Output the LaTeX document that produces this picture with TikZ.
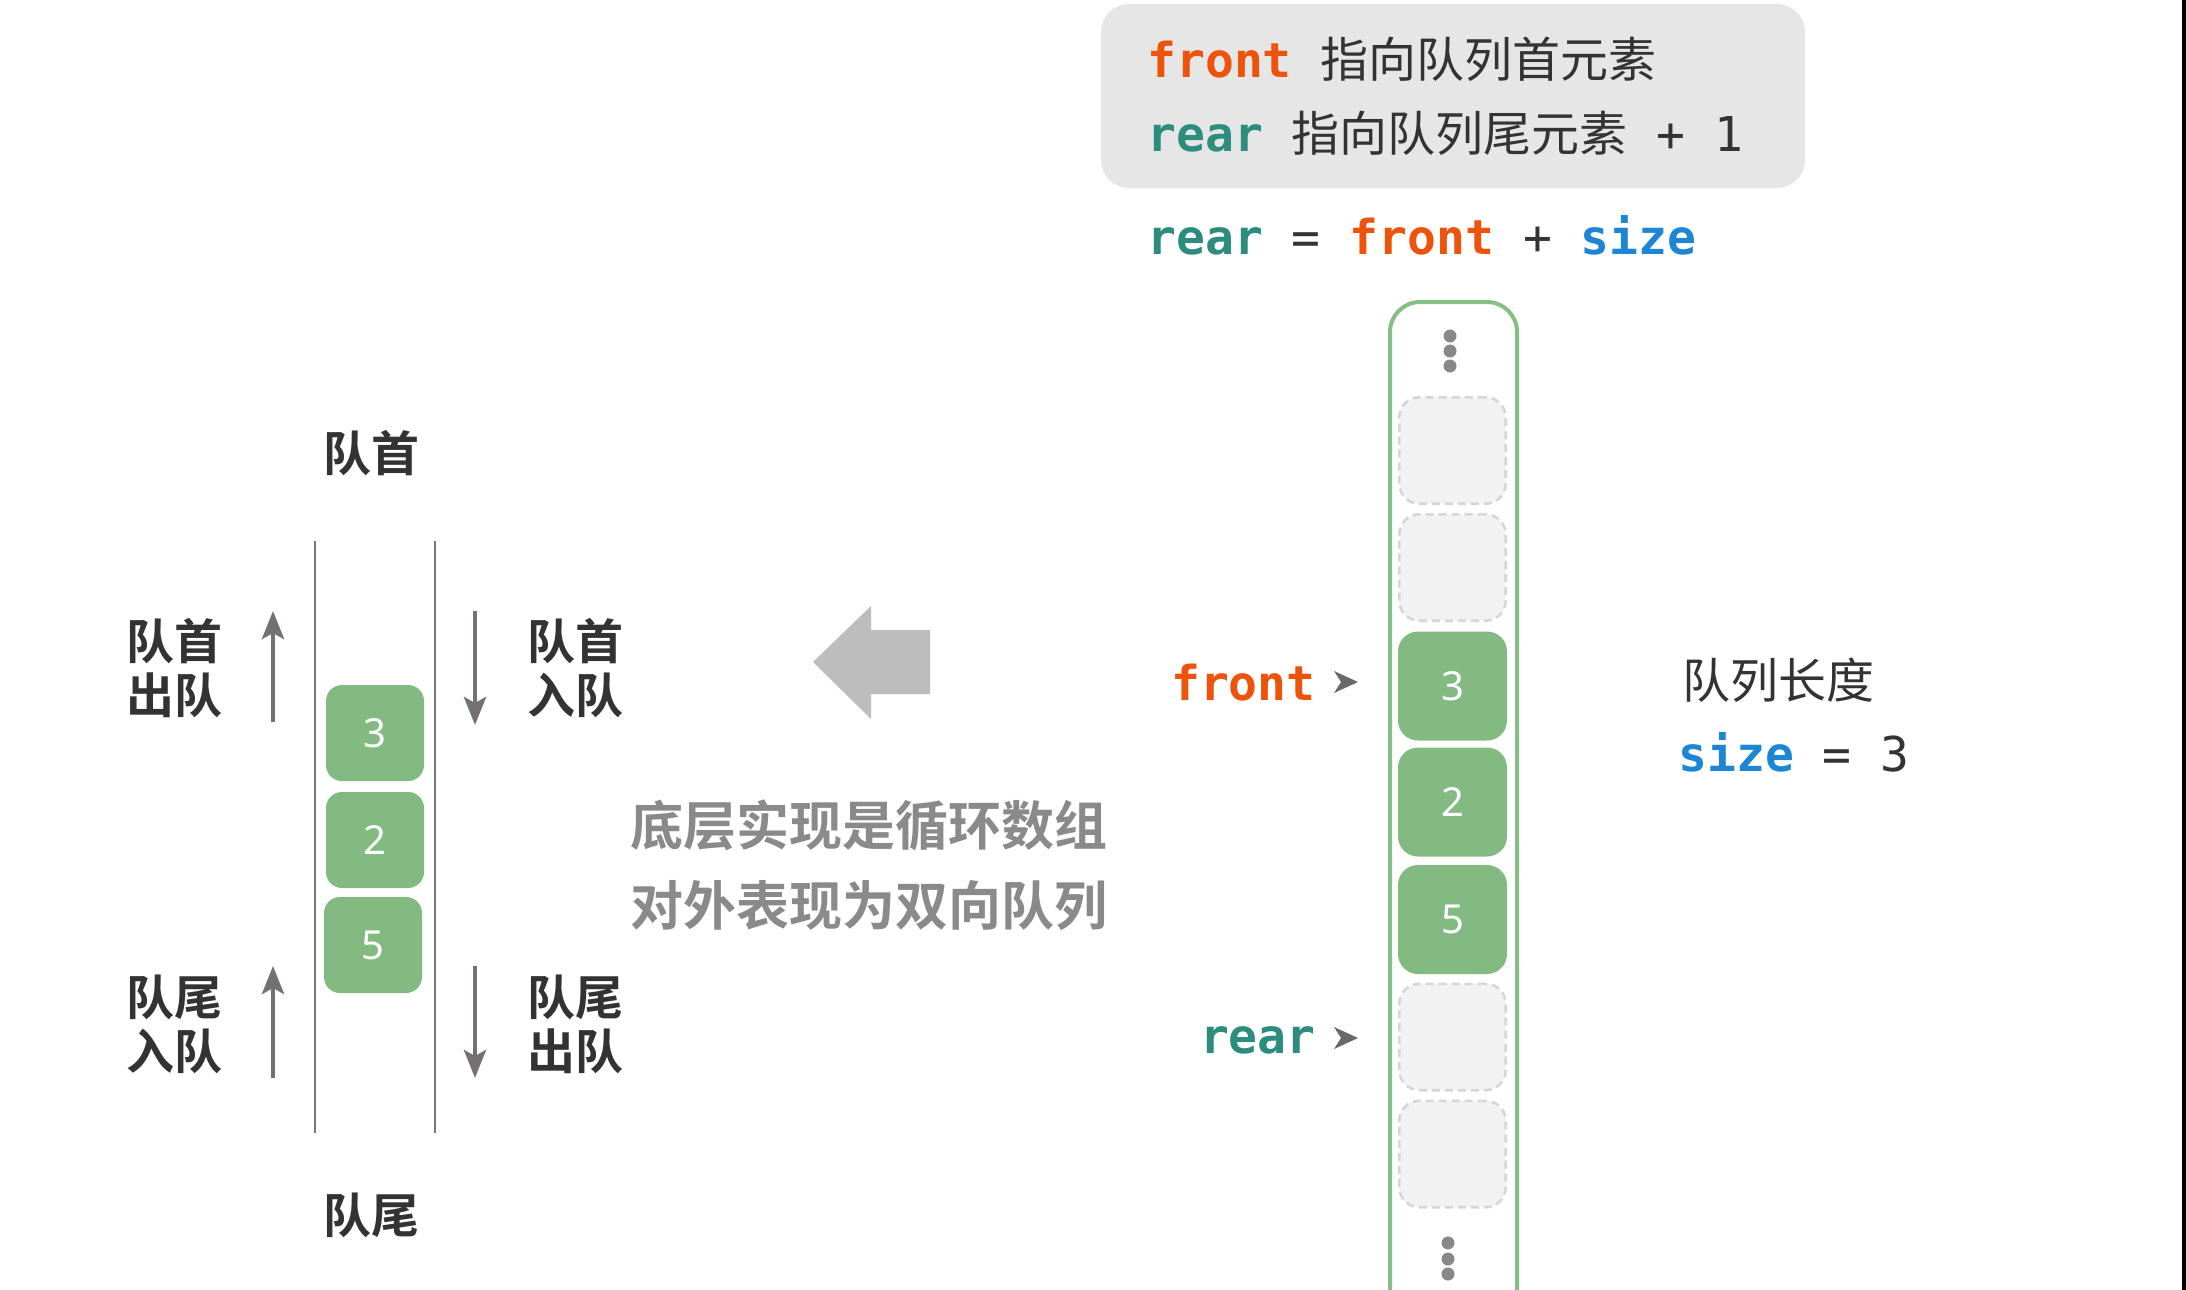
\documentclass[tikz,border=0pt]{standalone}
\usepackage{fontspec}
\usetikzlibrary{arrows.meta}
\newfontfamily\cjk{Noto Sans CJK SC}[BoldFont={Noto Sans CJK SC Bold}]
\newfontfamily\mono{DejaVu Sans Mono}
\newfontfamily\numfont{Noto Sans}
\definecolor{cfront}{RGB}{238,83,12}
\definecolor{crear}{RGB}{44,140,126}
\definecolor{csize}{RGB}{28,134,212}
\definecolor{ctext}{RGB}{51,51,51}
\definecolor{cgreen}{RGB}{130,186,130}
\definecolor{cgreenline}{RGB}{134,190,134}
\definecolor{cempty}{RGB}{242,242,242}
\definecolor{cemptyline}{RGB}{214,214,214}
\definecolor{cbox}{RGB}{230,230,230}
\definecolor{carrow}{RGB}{117,113,113}
\definecolor{cbig}{RGB}{189,189,189}
\definecolor{cmid}{RGB}{138,138,138}
\definecolor{cdot}{RGB}{136,136,136}
\definecolor{cline}{RGB}{120,120,120}
\definecolor{cptr}{RGB}{105,105,105}
\begin{document}
\begin{tikzpicture}[x=0.5pt,y=-0.5pt,
  lbl/.style={inner sep=0, text=ctext, align=center,
    font=\cjk\bfseries\fontsize{24pt}{27pt}\selectfont},
  midtxt/.style={inner sep=0, text=cmid,
    font=\cjk\bfseries\fontsize{26.5pt}{26.5pt}\selectfont},
  codetxt/.style={inner sep=0, anchor=base west,
    font=\fontsize{24pt}{24pt}\selectfont},
  valbox/.style={fill=cgreen, rounded corners=8pt, minimum width=49pt,
    minimum height=48pt, inner sep=0, text=white,
    font=\numfont\fontsize{20pt}{20pt}\selectfont},
  cellfull/.style={fill=cgreen, rounded corners=10pt, minimum width=54.5pt,
    minimum height=54.5pt, inner sep=0, text=white,
    font=\numfont\fontsize{20pt}{20pt}\selectfont},
  cellempty/.style={fill=cempty, draw=cemptyline, dash pattern=on 4pt off 2.5pt,
    line width=1.3pt, rounded corners=10pt, minimum width=53.2pt,
    minimum height=53.2pt, inner sep=0},
  arr/.style={draw=carrow, line width=2.4pt,
    -{Stealth[length=14pt,width=11pt,inset=3pt]}},
  qline/.style={draw=cline, line width=1.3pt},
  dot/.style={fill=cdot}
]
\fill[white] (0,0) rectangle (2186,1290);
\useasboundingbox (0,0) rectangle (2186,1290);
\fill[black] (2182,0) rectangle (2186,1290);

% ---- top legend box
\fill[cbox, rounded corners=14pt] (1101,4) rectangle (1805,188);
\node[codetxt] (row1) at (1147,77)
  {{\mono\bfseries\color{cfront}front}{\mono\ }{\cjk\color{ctext}指向队列首元素}};
\node[codetxt] (row2) at (1147,151)
  {{\mono\bfseries\color{crear}rear}{\mono\ }{\cjk\color{ctext}指向队列尾元素}{\mono\color{ctext}\ +\ 1}};
\node[codetxt] (formula) at (1147,254)
  {{\mono\bfseries\color{crear}rear}{\mono\color{ctext}\ =\ }{\mono\bfseries\color{cfront}front}{\mono\color{ctext}\ +\ }{\mono\bfseries\color{csize}size}};

% ---- array column
\begin{scope}
  \clip (0,0) rectangle (2186,1290);
  \draw[cgreenline, line width=2pt, rounded corners=15pt] (1390,302) rectangle (1517,1420);
\end{scope}
\fill[dot] (1450,336) circle[radius=3.25pt];
\fill[dot] (1450,351) circle[radius=3.25pt];
\fill[dot] (1450,366) circle[radius=3.25pt];
\node[cellempty] (c1) at (1452.5,450.5) {};
\node[cellempty] (c2) at (1452.5,567.5) {};
\node[cellfull]  (c3) at (1452.5,686) {3};
\node[cellfull]  (c4) at (1452.5,802) {2};
\node[cellfull]  (c5) at (1452.5,919.5) {5};
\node[cellempty] (c6) at (1452.5,1037) {};
\node[cellempty] (c7) at (1452.5,1154) {};
\fill[dot] (1448,1243) circle[radius=3.25pt];
\fill[dot] (1448,1259) circle[radius=3.25pt];
\fill[dot] (1448,1274) circle[radius=3.25pt];

% pointers
\node[codetxt, anchor=base east] (frontlbl) at (1316,700)
  {\mono\bfseries\color{cfront}front};
\node[codetxt, anchor=base east] (rearlbl) at (1316,1053)
  {\mono\bfseries\color{crear}rear};
\fill[cptr] (1334,671) -- (1358,682) -- (1334,693) -- (1341,682) -- cycle;
\fill[cptr] (1334,1027) -- (1358,1038) -- (1334,1049) -- (1341,1038) -- cycle;

% size
\node[inner sep=0, anchor=west, text=ctext,
  font=\cjk\fontsize{24pt}{24pt}\selectfont] (qlen) at (1682,680) {队列长度};
\node[codetxt] (sizeeq) at (1678,771)
  {{\mono\bfseries\color{csize}size}{\mono\color{ctext}\ =\ 3}};

% ---- big arrow and middle text
\fill[cbig] (813,662) -- (871,606) -- (871,630) -- (930,630) -- (930,694)
  -- (871,694) -- (871,719) -- cycle;
\node[midtxt] (mid1) at (869,825) {底层实现是循环数组};
\node[midtxt] (mid2) at (869,906) {对外表现为双向队列};

% ---- left deque
\draw[qline] (315,541) -- (315,1133);
\draw[qline] (435,541) -- (435,1133);
\node[valbox] (v3) at (375,733) {3};
\node[valbox] (v2) at (375,840) {2};
\node[valbox] (v5) at (373,945) {5};

\node[lbl] (topq) at (371,453) {队首};
\node[lbl] (botq) at (371,1215) {队尾};
\node[lbl] (l1) at (174,668) {队首\\出队};
\node[lbl] (r1) at (575,668) {队首\\入队};
\node[lbl] (l2) at (174,1024) {队尾\\入队};
\node[lbl] (r2) at (575,1024) {队尾\\出队};

\coordinate (a1s) at (273,722);
\coordinate (a1e) at (273,611);
\coordinate (a2s) at (475,611);
\coordinate (a2e) at (475,725);
\coordinate (a3s) at (273,1078);
\coordinate (a3e) at (273,966);
\coordinate (a4s) at (475,966);
\coordinate (a4e) at (475,1078);
\draw[arr] (a1s) -- (a1e);
\draw[arr] (a2s) -- (a2e);
\draw[arr] (a3s) -- (a3e);
\draw[arr] (a4s) -- (a4e);
\end{tikzpicture}
\end{document}
